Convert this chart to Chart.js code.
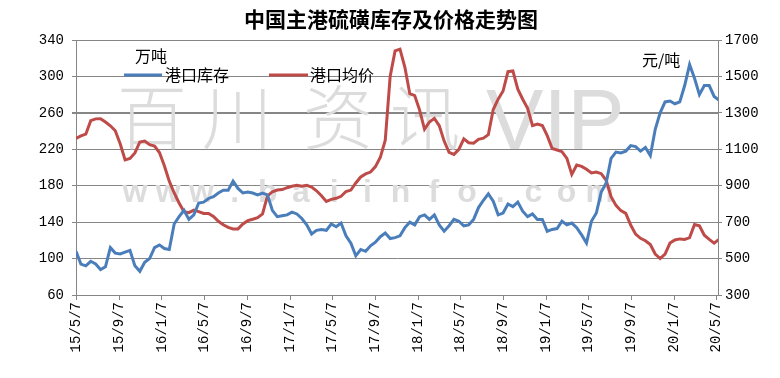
<!DOCTYPE html>
<html>
<head>
<meta charset="utf-8">
<script src="https://cdn.jsdelivr.net/npm/chart.js@4.4.1/dist/chart.umd.min.js"></script>
<style>
body { margin: 0; background: #fff; }
</style>
</head>
<body>
<canvas id="myChart" width="780" height="378"></canvas>
<script>
// biweekly readings, first one on 2015-05-07
var startDate = '2015-05-07';
var stepDays = 14;
var endDate = '2020-05-11';

var tickLabels = ['15/5/7', '15/9/7', '16/1/7', '16/5/7', '16/9/7', '17/1/7', '17/5/7', '17/9/7',
    '18/1/7', '18/5/7', '18/9/7', '19/1/7', '19/5/7', '19/9/7', '20/1/7', '20/5/7'];

// 港口库存, 万吨 (left axis)
var stockValues = [
    108, 94, 92, 97, 94, 88, 91, 112, 106, 105,
    107, 109, 92, 86, 96, 100, 112, 115, 111, 110,
    138, 146, 153, 143, 148, 161, 162, 166, 168, 172,
    175, 175, 185, 177, 172, 173, 172, 170, 172, 170,
    153, 146, 147, 148, 151, 149, 144, 137, 127, 131,
    132, 131, 138, 135, 139, 125, 117, 103, 110, 108,
    114, 118, 124, 128, 122, 123, 125, 134, 140, 137,
    146, 148, 143, 148, 137, 130, 136, 143, 141, 136,
    137, 143, 156, 164, 171, 163, 148, 150, 160, 157,
    162, 152, 146, 149, 143, 143, 130, 132, 133, 141,
    137, 139, 134, 126, 117, 141, 150, 173, 183, 210,
    217, 216, 218, 224, 223, 218, 222, 213, 242, 260,
    272, 273, 270, 272, 290, 313, 298, 280, 290, 290,
    278, 274
];

// 港口均价, 元/吨 (right axis)
var priceValues = [
    1160, 1174, 1183, 1257, 1267, 1268, 1250, 1229, 1202, 1130,
    1042, 1050, 1080, 1140, 1145, 1125, 1118, 1082, 1010, 925,
    860, 805, 757, 752, 766, 758, 748, 748, 731, 705,
    686, 671, 663, 663, 690, 708, 716, 725, 745, 843,
    867, 876, 879, 889, 897, 902, 897, 902, 893, 872,
    845, 814, 825, 831, 842, 868, 876, 915, 948, 965,
    975, 1005, 1056, 1150, 1500, 1640, 1650, 1550, 1405, 1395,
    1315, 1210, 1250, 1270, 1230, 1145, 1083, 1072, 1100, 1157,
    1136, 1133, 1155, 1161, 1180, 1318, 1375, 1420, 1526, 1530,
    1430, 1375, 1325, 1230, 1238, 1230, 1175, 1104, 1096, 1087,
    1050, 962, 1014, 1006, 990, 970, 975, 966, 930, 840,
    792, 763, 748, 684, 634, 611, 598, 577, 525, 500,
    525, 585, 602, 608, 605, 615, 687, 680, 628, 605,
    585, 606
];

var DAY = 86400000;
var t0 = Date.parse(startDate);
function dayOf(label) {
    var p = label.split('/');
    return (Date.UTC(2000 + Number(p[0]), Number(p[1]) - 1, Number(p[2])) - t0) / DAY;
}
var tickDays = tickLabels.map(dayOf);
var maxDay = (Date.parse(endDate) - t0) / DAY;

var stockPoints = stockValues.map(function (v, i) { return { x: i * stepDays, y: v }; });
var pricePoints = priceValues.map(function (v, i) { return { x: i * stepDays, y: v }; });

var blue = '#4a7ebb';
var red = '#be4b48';
var gridColor = '#868686';
var tickFont = { family: 'Liberation Mono', size: 14 };

var decor = {
    id: 'decor',
    beforeDatasetsDraw: function (chart) {
        var ctx = chart.ctx;
        ctx.save();
        // watermark
        ctx.fillStyle = '#dcdcdc';
        ctx.textBaseline = 'middle';
        ctx.textAlign = 'center';
        ctx.font = '300 70px "Noto Sans CJK SC"';
        var big = ['百', '川', '资', '讯'];
        var bx = [152, 237, 338, 425];
        big.forEach(function (c, i) { ctx.fillText(c, bx[i], 117); });
        ctx.textAlign = 'left';
        ctx.font = '86px "Liberation Sans"';
        ctx.textBaseline = 'alphabetic';
        ctx.fillText('VIP', 486, 149);
        ctx.font = 'bold 32px "Liberation Sans"';
        ctx.textAlign = 'center';
        var site = 'www.baiinfo.com';
        for (var i = 0; i < site.length; i++) {
            ctx.fillText(site[i], 135 + i * 33.2, 202);
        }
        ctx.restore();
    },
    afterDraw: function (chart) {
        var ctx = chart.ctx;
        ctx.save();
        ctx.fillStyle = '#000';
        ctx.textBaseline = 'middle';
        ctx.textAlign = 'center';
        ctx.font = 'bold 21px "Noto Sans CJK SC"';
        ctx.fillText('中国主港硫磺库存及价格走势图', 391, 19);
        ctx.textAlign = 'left';
        ctx.font = '16px "Noto Sans CJK SC"';
        ctx.fillText('万吨', 135, 56);
        ctx.fillText('元/吨', 642, 60);
        ctx.fillText('港口库存', 165, 75);
        ctx.fillText('港口均价', 310, 75);
        ctx.lineWidth = 3;
        ctx.strokeStyle = blue;
        ctx.beginPath(); ctx.moveTo(124, 75); ctx.lineTo(162, 75); ctx.stroke();
        ctx.strokeStyle = red;
        ctx.beginPath(); ctx.moveTo(269, 75); ctx.lineTo(308, 75); ctx.stroke();
        ctx.restore();
    }
};

var ctx = document.getElementById('myChart').getContext('2d');
var myChart = new Chart(ctx, {
    type: 'line',
    data: {
        datasets: [{
            label: '港口库存',
            data: stockPoints,
            yAxisID: 'yLeft',
            borderColor: blue,
            backgroundColor: blue,
            borderWidth: 3,
            pointRadius: 0,
            tension: 0
        }, {
            label: '港口均价',
            data: pricePoints,
            yAxisID: 'yRight',
            borderColor: red,
            backgroundColor: red,
            borderWidth: 3,
            pointRadius: 0,
            tension: 0
        }]
    },
    options: {
        responsive: false,
        animation: false,
        devicePixelRatio: 1,
        layout: { padding: { top: 40, left: 0, right: 0, bottom: 0 } },
        plugins: {
            legend: { display: false },
            title: { display: false },
            tooltip: { enabled: false }
        },
        scales: {
            x: {
                type: 'linear',
                min: 0,
                max: maxDay,
                afterBuildTicks: function (scale) {
                    scale.ticks = tickDays.map(function (d) { return { value: d }; });
                },
                afterFit: function (scale) { scale.height = 83; },
                ticks: {
                    autoSkip: false,
                    minRotation: 90,
                    maxRotation: 90,
                    color: '#000',
                    font: tickFont,
                    padding: 2,
                    callback: function (value) {
                        var i = tickDays.indexOf(value);
                        return i >= 0 ? tickLabels[i] : '';
                    }
                },
                grid: { drawOnChartArea: false, color: gridColor, tickLength: 5 },
                border: { color: gridColor }
            },
            yLeft: {
                type: 'linear',
                position: 'left',
                min: 60,
                max: 340,
                afterFit: function (scale) { scale.width = 76; },
                ticks: {
                    stepSize: 40, color: '#000', font: tickFont, padding: 8,
                    callback: function (value) { return String(value); }
                },
                grid: {
                    color: gridColor,
                    tickLength: 4,
                    lineWidth: function (c) { return c.tick && c.tick.value === 260 ? 2 : 1; }
                },
                border: { color: gridColor }
            },
            yRight: {
                type: 'linear',
                position: 'right',
                min: 300,
                max: 1700,
                afterFit: function (scale) { scale.width = 62; },
                ticks: {
                    stepSize: 200, color: '#000', font: tickFont, padding: 3,
                    callback: function (value) { return String(value); }
                },
                grid: { drawOnChartArea: false, color: gridColor, tickLength: 4 },
                border: { color: gridColor }
            }
        }
    },
    plugins: [decor]
});
</script>
</body>
</html>
